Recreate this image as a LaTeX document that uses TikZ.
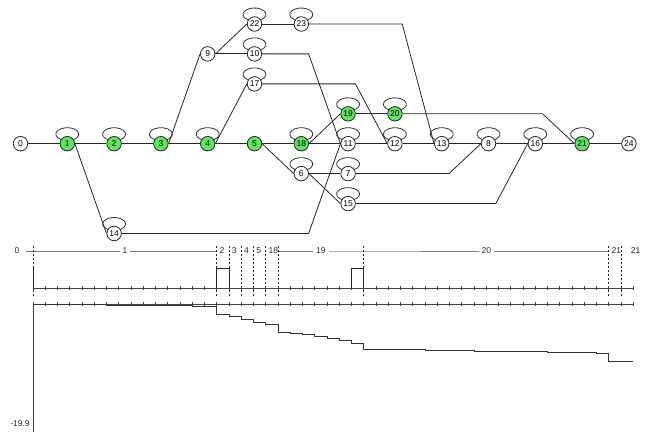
\documentclass[tikz,border=0pt]{standalone}
\usepackage{fontspec}
\setmainfont{Liberation Sans}
\usepackage{tikz}

\definecolor{stategreen}{RGB}{96,228,96}

\begin{document}
\begin{tikzpicture}[x=1pt,y=1pt,node distance=46.8pt,line width=0.8pt,
  main node/.style={circle,draw=black!85,fill=white,minimum size=14.5pt,inner sep=0pt,font=\fontsize{8.5}{10}\selectfont},
  green node/.style={main node,fill=stategreen},
  link/.style={draw=black!85},
  self loop/.style={draw=black!80,to path={([shift={(6.09pt,3.99pt)}]\tikztostart.center)
    arc[start angle=-58,end angle=238,x radius=11.5pt,y radius=6.5pt]}},
  time label/.style={inner sep=2.5pt,text=black!85,font=\fontsize{8.5}{10}\selectfont},
  divider/.style={black!85,dash pattern=on 2pt off 2pt},
  timeline/.style={black!50},
  axis/.style={black!75}]
\useasboundingbox (0,0) rectangle (651,433);

% main row of states
\node[main node] (0) at (20.5,289.3) {0};
\node[green node] (1) [right of=0] {1};
\node[green node] (2) [right of=1] {2};
\node[green node] (3) [right of=2] {3};
\node[green node] (4) [right of=3] {4};
\node[green node] (5) [right of=4] {5};
\node[green node] (18) [right of=5] {18};
\node[main node] (11) [right of=18] {11};
\node[main node] (12) [right of=11] {12};
\node[main node] (13) [right of=12] {13};
\node[main node] (8) [right of=13] {8};
\node[main node] (16) [right of=8] {16};
\node[green node] (21) [right of=16] {21};
\node[main node] (24) [right of=21] {24};

% branches
\node[main node] (22) at (254.5,409) {22};
\node[main node] (23) at (301.3,409) {23};
\node[main node] (9) at (207.7,379.1) {9};
\node[main node] (10) at (254.5,379.1) {10};
\node[main node] (17) at (254.5,349.1) {17};
\node[green node] (19) at (348.1,319.2) {19};
\node[green node] (20) at (394.9,319.2) {20};
\node[main node] (6) at (301.3,259.4) {6};
\node[main node] (7) at (348.1,259.4) {7};
\node[main node] (15) at (348.1,229.4) {15};
\node[main node] (14) at (114.1,199.5) {14};

\coordinate (b10) at (308.6,379.1);
\coordinate (b14) at (308.6,199.5);
\coordinate (b23) at (402.2,409);
\coordinate (b17) at (355.4,349.1);
\coordinate (b20) at (542.6,319.2);
\coordinate (b7) at (449,259.4);
\coordinate (b15) at (495.8,229.4);

\path[every edge/.style=link]
  (0) edge (1) (1) edge (2) (2) edge (3) (3) edge (4) (4) edge (5) (5) edge (18)
  (18) edge (11) (11) edge (12) (12) edge (13) (13) edge (8) (8) edge (16)
  (16) edge (21) (21) edge (24)
  (22) edge (23) (9) edge (10) (19) edge (20) (6) edge (7)
  (1.east) edge (14.west) (3.east) edge (9.west) (9.east) edge (22.west)
  (4.east) edge (17.west) (5.east) edge (6.west) (18.east) edge (19.west)
  (6.east) edge (15.west);

\draw[link] (10) -- (b10) -- (11.west);
\draw[link] (14) -- (b14) -- (11.west);
\draw[link] (23) -- (b23) -- (13.west);
\draw[link] (17) -- (b17) -- (12.west);
\draw[link] (20) -- (b20) -- (21.west);
\draw[link] (7) -- (b7) -- (8.west);
\draw[link] (15) -- (b15) -- (16.west);

\path
  (1) edge[self loop] (1) (2) edge[self loop] (2) (3) edge[self loop] (3)
  (4) edge[self loop] (4) (18) edge[self loop] (18) (11) edge[self loop] (11)
  (12) edge[self loop] (12) (13) edge[self loop] (13) (8) edge[self loop] (8)
  (16) edge[self loop] (16) (21) edge[self loop] (21) (22) edge[self loop] (22)
  (23) edge[self loop] (23) (10) edge[self loop] (10) (17) edge[self loop] (17)
  (19) edge[self loop] (19) (20) edge[self loop] (20) (6) edge[self loop] (6)
  (7) edge[self loop] (7) (15) edge[self loop] (15) (14) edge[self loop] (14);

% time line and charts
\begin{scope}[xshift=33pt,x=12.25pt]
  \node[time label] (lbl0) at (-1.3,182) {0};
  \node[time label] (lbl1) at (7.5,182) {1};
  \node[time label,anchor=west] (lbl2) at (15,182) {2};
  \node[time label,anchor=west] (lbl3) at (16,182) {3};
  \node[time label,anchor=west] (lbl4) at (17,182) {4};
  \node[time label,anchor=west] (lbl5) at (18,182) {5};
  \node[time label,anchor=west] (lbl18) at (19,182) {18};
  \node[time label] (lbl19) at (23.5,182) {19};
  \node[time label] (lbl20) at (37,182) {20};
  \node[time label,anchor=west] (lbl21) at (47,182) {21};
  \node[time label] (lbl21b) at (49.2,182) {21};
  \coordinate (d15) at (15,182);
  \coordinate (d20) at (20,182);
  \coordinate (d27) at (27,182);
  \coordinate (d47) at (47,182);

  \draw[timeline,shorten <=4pt] (lbl0) -- (lbl1);
  \draw[timeline] (lbl1) -- (d15);
  \draw[timeline] (d20) -- (lbl19);
  \draw[timeline] (lbl19) -- (d27) -- (lbl20);
  \draw[timeline] (lbl20) -- (d47);

  \foreach \t in {0,15,16,17,18,19,20,27,47,48}
    \draw[divider] (\t,187) -- (\t,136);

  % axes
  \draw[axis] (0,145) -- (49,145);
  \draw[axis] (0,129) -- (49,129);
  \foreach \t in {0,...,49} {
    \draw[axis] (\t,143.2) -- (\t,146.8);
    \draw[axis] (\t,127.2) -- (\t,130.8);
  }

  % pulses
  \draw[black!85] (0,145) -- (0,165);
  \draw[black!85] (15,145) |- (16,165) -- (16,145);
  \draw[black!85] (26,145) |- (27,165) -- (27,145);

  % staircase
  \draw[axis] (0,129) -- (0,1);
  \node[time label] (ymin) at (-1.06,9.7) {-19.9};
  \draw[black!80] (0,129) -| (2,128.7) -| (6,128) -| (9,127.3) -| (13,126.3)
    -| (15,118.7) -| (16,116.7) -| (17,113.3) -| (18,111) -| (19,108.3)
    -| (20,100.7) -| (21,99.7) -| (22,98.3) -| (23,96.7) -| (24,95)
    -| (25,92.7) -| (26,90) -| (27,84) -| (29,83.7) -| (32,82.7)
    -| (36,82) -| (39,81.3) -| (42,80.7) -| (46,79.7) -| (47,72) -- (49,72);
\end{scope}
\end{tikzpicture}
\end{document}
